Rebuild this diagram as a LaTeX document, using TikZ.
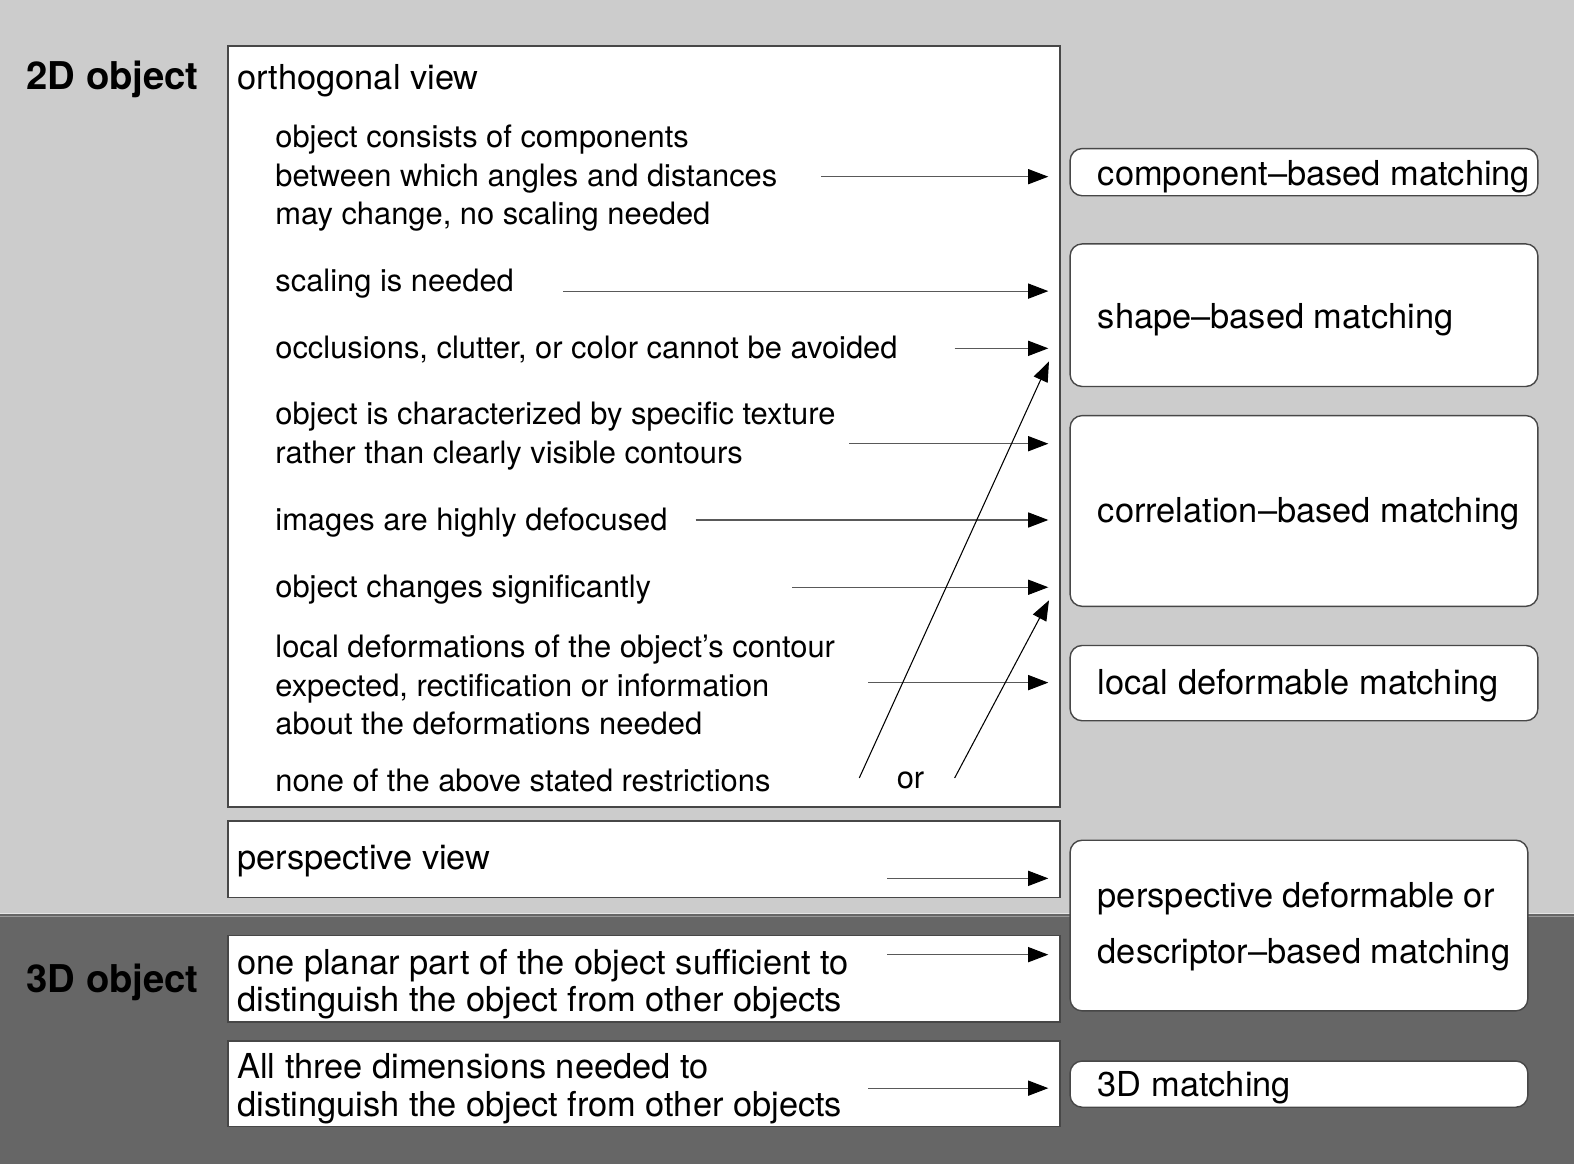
\documentclass[tikz,border=0pt]{standalone}
\usepackage{fontspec}
\setmainfont{TeX Gyre Heros}
\usepackage{tikz}
\usetikzlibrary{positioning, arrows.meta, fit, calc}
\definecolor{lightbg}{HTML}{CCCCCC}
\definecolor{darkbg}{HTML}{666666}
\tikzset{
    cond/.style={draw=black!72, fill=white, line width=0.8pt, inner sep=0pt},
    method/.style={cond, rounded corners=0.24cm},
    item/.style={anchor=west, inner sep=0pt, align=left, yshift=-0.05cm, font=\fontsize{17.5}{21.9}\selectfont},
    head/.style={anchor=west, inner sep=0pt, align=left, yshift=-0.05cm, font=\fontsize{19.5}{21.2}\selectfont},
    mtext/.style={head, anchor=west},
    kind/.style={anchor=west, inner sep=0pt, yshift=-0.05cm, font=\bfseries\fontsize{21.7}{24}\selectfont},
    arr/.style={draw=black!65, line width=0.6pt, -{Triangle[length=0.4cm, width=0.3cm, black]}},
    tobox/.style={arr, shorten >=0.42cm},
}

\begin{document}
\begin{tikzpicture}[x=0.02cm, y=-0.02cm]
    \useasboundingbox (0,0) rectangle (1568,1160);
    \fill[lightbg] (0,0) rectangle (1568,910);
    \fill[darkbg] (0,910) rectangle (1568,1160);
    \draw[white!90!black, line width=0.6pt] (0,910) -- (1568,910);
    \draw[black!40, line width=0.6pt] (0,913) -- (1568,913);

    \node[kind] (k2d) at (26,77) {2D object};
    \node[kind] (k3d) at (26,976) {3D object};

    \node[cond, fit={(227,46) (1056,804)}] (orth) {};
    \node[cond, fit={(227,818) (1056,894)}] (persp) {};
    \node[cond, fit={(227,932) (1056,1018)}] (planar) {};
    \node[cond, fit={(227,1037) (1056,1122)}] (three) {};

    \node[method, fit={(1066,148) (1532,195)}] (comp) {};
    \node[method, fit={(1066,243) (1532,385)}] (shape) {};
    \node[method, fit={(1066,414) (1532,604)}] (corr) {};
    \node[method, fit={(1066,643) (1532,718)}] (local) {};
    \node[method, fit={(1066,837) (1522,1007)}] (pdesc) {};
    \node[method, fit={(1066,1057) (1522,1103)}] (m3d) {};

    \node[mtext] at ([xshift=0.56cm, yshift=-0.05cm]comp.west) {component--based matching};
    \node[mtext] at ([xshift=0.56cm, yshift=-0.03cm]shape.west) {shape--based matching};
    \node[mtext] at ([xshift=0.56cm]corr.west) {correlation--based matching};
    \node[mtext] at ([xshift=0.56cm]local.west) {local deformable matching};
    \node[mtext, font=\fontsize{19.5}{31.9}\selectfont] at ([xshift=0.56cm, yshift=0.03cm]pdesc.west) {perspective deformable or\\descriptor--based matching};
    \node[mtext] at ([xshift=0.56cm, yshift=-0.03cm]m3d.west) {3D matching};

    \node[head] (hortho) at (236,78) {orthogonal view};
    \node[head] (hpersp) at (236,855) {perspective view};
    \node[head] (hplanar) at (236,978) {one planar part of the object sufficient to\\distinguish the object from other objects};
    \node[head] (hthree) at (236,1082) {All three dimensions needed to\\distinguish the object from other objects};

    \node[item] (c1) at (274,175) {object consists of components\\between which angles and distances\\may change, no scaling needed};
    \node[item] (c2) at (274,280) {scaling is needed};
    \node[item] (c3) at (274,346) {occlusions, clutter, or color cannot be avoided};
    \node[item] (c4) at (274,432) {object is characterized by specific texture\\rather than clearly visible contours};
    \node[item] (c5) at (274,518) {images are highly defocused};
    \node[item] (c6) at (274,585) {object changes significantly};
    \node[item] (c7) at (274,680) {local deformations of the object's contour\\expected, rectification or information\\about the deformations needed};
    \node[item] (c8) at (274,775) {none of the above stated restrictions};
    \node[item] (or) at (893,775) {or};

    \coordinate (s1) at (818,176);
    \coordinate (s2) at (561,290);
    \coordinate (s3) at (951,347);
    \coordinate (s4) at (846,442);
    \coordinate (s5) at (693,518);
    \coordinate (s6) at (789,585);
    \coordinate (s7) at (865,680);
    \coordinate (s8) at (884,875);
    \coordinate (s9) at (884,951);
    \coordinate (s10) at (865,1084);
    \coordinate (n1) at (856,775);
    \coordinate (n2) at (951,775);
    \coordinate (e1) at (1045,360);
    \coordinate (e2) at (1045,598);

    \draw[tobox] (s1) -- (s1 -| comp.west);
    \draw[tobox] (s2) -- (s2 -| shape.west);
    \draw[tobox] (s3) -- (s3 -| shape.west);
    \draw[tobox] (s4) -- (s4 -| corr.west);
    \draw[tobox] (s5) -- (s5 -| corr.west);
    \draw[tobox] (s6) -- (s6 -| corr.west);
    \draw[tobox] (s7) -- (s7 -| local.west);
    \draw[tobox] (s8) -- (s8 -| pdesc.west);
    \draw[tobox] (s9) -- (s9 -| pdesc.west);
    \draw[tobox] (s10) -- (s10 -| m3d.west);
    \draw[arr, draw=black] (n1) -- (e1);
    \draw[arr, draw=black] (n2) -- (e2);
\end{tikzpicture}
\end{document}
